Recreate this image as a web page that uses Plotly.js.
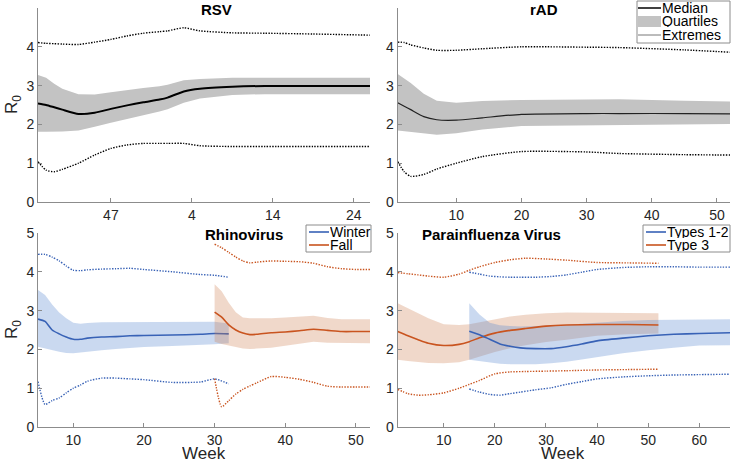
<!DOCTYPE html>
<html>
<head>
<meta charset="utf-8">
<script src="https://cdn.plot.ly/plotly-3.0.1.min.js"></script>
<style>
  body { margin: 0; background: #fff; }
  #myDiv { width: 733px; height: 461px; }
</style>
</head>
<body>
<div id="myDiv"></div>
<script>
// RSV: weeks keep counting past 53 so the season is continuous (57 = week 4)
var rsvWeek   = [38, 39, 40, 41, 43, 45, 47, 49, 51, 53, 54, 56, 58, 62, 66, 72, 79];
var rsvMed    = [2.54, 2.50, 2.44, 2.38, 2.27, 2.30, 2.40, 2.49, 2.57, 2.64, 2.69, 2.85, 2.92, 2.97, 2.99, 2.99, 2.99];
var rsvQ3     = [3.27, 3.20, 3.05, 2.92, 2.78, 2.77, 2.83, 2.89, 2.94, 2.98, 3.02, 3.14, 3.17, 3.20, 3.20, 3.20, 3.20];
var rsvQ1     = [1.81, 1.81, 1.81, 1.82, 1.84, 1.94, 2.04, 2.14, 2.24, 2.33, 2.39, 2.56, 2.67, 2.76, 2.78, 2.78, 2.78];
var rsvMax    = [4.11, 4.09, 4.08, 4.07, 4.06, 4.12, 4.19, 4.28, 4.35, 4.39, 4.41, 4.49, 4.41, 4.36, 4.35, 4.33, 4.30];
var rsvMin    = [1.04, 0.82, 0.78, 0.84, 1.00, 1.21, 1.38, 1.47, 1.51, 1.51, 1.51, 1.51, 1.45, 1.43, 1.43, 1.43, 1.43];
var rsvTicks  = [47, 57, 67, 77];
var rsvLabels = ['47', '4', '14', '24'];

// rAD
var radWeek = [1, 2, 3, 5, 7, 10, 14, 20, 30, 35, 45, 52];
var radMed  = [2.56, 2.47, 2.38, 2.20, 2.12, 2.11, 2.17, 2.26, 2.28, 2.28, 2.28, 2.27];
var radQ3   = [3.30, 3.18, 3.07, 2.79, 2.61, 2.56, 2.60, 2.63, 2.64, 2.65, 2.61, 2.59];
var radQ1   = [1.84, 1.83, 1.80, 1.77, 1.73, 1.77, 1.87, 1.96, 1.98, 1.99, 2.00, 2.01];
var radMax  = [4.12, 4.11, 4.05, 3.97, 3.91, 3.91, 3.95, 4.00, 3.99, 3.98, 3.92, 3.86];
var radMin  = [1.04, 0.78, 0.66, 0.71, 0.85, 1.00, 1.17, 1.30, 1.29, 1.25, 1.22, 1.21];

// Rhinovirus
var winWeek = [5, 6, 7, 8, 9, 10, 11, 12, 14, 16, 18, 20, 24, 28, 30, 32];
var winMed  = [2.78, 2.72, 2.50, 2.40, 2.32, 2.26, 2.26, 2.29, 2.32, 2.33, 2.35, 2.36, 2.37, 2.39, 2.41, 2.40];
var winQ3   = [3.53, 3.40, 3.16, 2.95, 2.80, 2.69, 2.66, 2.68, 2.70, 2.70, 2.71, 2.71, 2.71, 2.71, 2.71, 2.67];
var winQ1   = [2.07, 2.03, 1.98, 1.94, 1.91, 1.90, 1.92, 1.95, 1.98, 2.01, 2.04, 2.06, 2.09, 2.12, 2.13, 2.16];
var winMax  = [4.45, 4.45, 4.38, 4.28, 4.15, 4.04, 4.03, 4.05, 4.07, 4.08, 4.09, 4.06, 4.00, 3.93, 3.91, 3.86];
var winMin  = [1.17, 0.58, 0.68, 0.75, 0.88, 1.00, 1.08, 1.18, 1.26, 1.26, 1.24, 1.22, 1.15, 1.16, 1.24, 1.11];

var fallWeek = [30, 31, 32, 33, 34, 35, 36, 38, 40, 42, 44, 46, 48, 50, 52];
var fallMed  = [2.96, 2.83, 2.63, 2.50, 2.42, 2.38, 2.39, 2.43, 2.45, 2.48, 2.52, 2.49, 2.46, 2.46, 2.46];
var fallQ3   = [3.68, 3.50, 3.20, 2.96, 2.82, 2.80, 2.80, 2.80, 2.82, 2.85, 2.87, 2.81, 2.78, 2.78, 2.78];
var fallQ1   = [2.20, 2.14, 2.09, 2.06, 2.02, 2.01, 2.02, 2.04, 2.09, 2.15, 2.20, 2.17, 2.16, 2.16, 2.16];
var fallMax  = [4.71, 4.62, 4.50, 4.38, 4.28, 4.23, 4.25, 4.28, 4.27, 4.26, 4.22, 4.13, 4.08, 4.06, 4.06];
var fallMin  = [1.25, 0.52, 0.68, 0.85, 0.97, 1.06, 1.14, 1.30, 1.28, 1.23, 1.15, 1.05, 1.03, 1.03, 1.03];

// Parainfluenza
var t12Week = [15, 17, 19, 21, 23, 25, 28, 31, 34, 37, 40, 45, 50, 55, 60, 66];
var t12Med  = [2.47, 2.38, 2.26, 2.14, 2.08, 2.04, 2.02, 2.02, 2.07, 2.14, 2.22, 2.29, 2.35, 2.39, 2.41, 2.43];
var t12Q3   = [3.19, 2.90, 2.69, 2.62, 2.60, 2.59, 2.60, 2.61, 2.63, 2.66, 2.69, 2.73, 2.76, 2.77, 2.78, 2.78];
var t12Q1   = [1.73, 1.69, 1.66, 1.63, 1.62, 1.61, 1.62, 1.64, 1.68, 1.74, 1.81, 1.90, 1.98, 2.04, 2.10, 2.11];
var t12Max  = [3.99, 3.94, 3.89, 3.87, 3.86, 3.86, 3.86, 3.88, 3.92, 3.99, 4.06, 4.11, 4.13, 4.13, 4.12, 4.12];
var t12Min  = [0.98, 0.90, 0.84, 0.82, 0.86, 0.90, 0.96, 1.01, 1.10, 1.17, 1.24, 1.29, 1.32, 1.34, 1.35, 1.36];

var t3Week = [1, 3, 5, 7, 10, 13, 15, 17, 20, 23, 26, 30, 34, 40, 46, 52];
var t3Med  = [2.46, 2.35, 2.25, 2.16, 2.10, 2.13, 2.20, 2.30, 2.42, 2.49, 2.54, 2.60, 2.63, 2.64, 2.64, 2.63];
var t3Q3   = [3.19, 3.06, 2.95, 2.80, 2.65, 2.63, 2.65, 2.70, 2.79, 2.85, 2.89, 2.93, 2.95, 2.95, 2.94, 2.93];
var t3Q1   = [1.73, 1.70, 1.67, 1.65, 1.64, 1.67, 1.73, 1.80, 1.93, 2.03, 2.11, 2.19, 2.25, 2.35, 2.39, 2.41];
var t3Max  = [3.98, 3.95, 3.92, 3.89, 3.86, 3.94, 4.04, 4.13, 4.24, 4.31, 4.35, 4.33, 4.30, 4.24, 4.23, 4.22];
var t3Min  = [0.97, 0.86, 0.82, 0.83, 0.88, 1.00, 1.10, 1.20, 1.37, 1.42, 1.43, 1.44, 1.45, 1.47, 1.48, 1.49];

var blue = '#3862b6', blueFill = 'rgba(80,130,205,0.30)';
var red = '#c9541f', redFill = 'rgba(205,125,80,0.30)';
var grayFill = '#c3c3c3';
var font = 'Liberation Sans, Arial, sans-serif';
var dotted = '1.4px,1.4px';

function band(x, lo, hi, color, xa, ya) {
  return {
    x: x.concat(x.slice().reverse()),
    y: hi.concat(lo.slice().reverse()),
    type: 'scatter', mode: 'lines', fill: 'toself', fillcolor: color,
    line: {width: 0}, hoverinfo: 'skip', xaxis: xa, yaxis: ya
  };
}

function line(x, y, color, width, dash, xa, ya) {
  return {
    x: x, y: y, type: 'scatter', mode: 'lines',
    line: {color: color, width: width, dash: dash, shape: 'spline', smoothing: 0.6},
    xaxis: xa, yaxis: ya
  };
}

var data = [
  // RSV
  band(rsvWeek, rsvQ1, rsvQ3, grayFill, 'x', 'y'),
  line(rsvWeek, rsvMed, '#000', 2, 'solid', 'x', 'y'),
  line(rsvWeek, rsvMax, '#000', 1.4, dotted, 'x', 'y'),
  line(rsvWeek, rsvMin, '#000', 1.4, dotted, 'x', 'y'),
  // rAD
  band(radWeek, radQ1, radQ3, grayFill, 'x2', 'y2'),
  line(radWeek, radMed, '#222', 1.2, 'solid', 'x2', 'y2'),
  line(radWeek, radMax, '#000', 1.4, dotted, 'x2', 'y2'),
  line(radWeek, radMin, '#000', 1.4, dotted, 'x2', 'y2'),
  // Rhinovirus
  band(winWeek, winQ1, winQ3, blueFill, 'x3', 'y3'),
  line(winWeek, winMed, blue, 1.6, 'solid', 'x3', 'y3'),
  line(winWeek, winMax, blue, 1.4, dotted, 'x3', 'y3'),
  line(winWeek, winMin, blue, 1.4, dotted, 'x3', 'y3'),
  band(fallWeek, fallQ1, fallQ3, redFill, 'x3', 'y3'),
  line(fallWeek, fallMed, red, 1.6, 'solid', 'x3', 'y3'),
  line(fallWeek, fallMax, red, 1.4, dotted, 'x3', 'y3'),
  line(fallWeek, fallMin, red, 1.4, dotted, 'x3', 'y3'),
  // Parainfluenza
  band(t3Week, t3Q1, t3Q3, redFill, 'x4', 'y4'),
  band(t12Week, t12Q1, t12Q3, blueFill, 'x4', 'y4'),
  line(t3Week, t3Med, red, 1.6, 'solid', 'x4', 'y4'),
  line(t3Week, t3Max, red, 1.4, dotted, 'x4', 'y4'),
  line(t3Week, t3Min, red, 1.4, dotted, 'x4', 'y4'),
  line(t12Week, t12Med, blue, 1.6, 'solid', 'x4', 'y4'),
  line(t12Week, t12Max, blue, 1.4, dotted, 'x4', 'y4'),
  line(t12Week, t12Min, blue, 1.4, dotted, 'x4', 'y4')
];

function xAxis(dom, anchor, range, ticks) {
  return {
    domain: dom, anchor: anchor, range: range, tickvals: ticks,
    showline: true, linecolor: '#8c8c8c', linewidth: 1,
    ticks: 'inside', ticklen: 4, tickcolor: '#8c8c8c',
    showgrid: false, zeroline: false,
    tickfont: {family: font, size: 14, color: '#262626'}
  };
}

function yAxis(dom, anchor) {
  return {
    domain: dom, anchor: anchor, range: [0, 5], dtick: 1,
    showline: true, linecolor: '#8c8c8c', linewidth: 1,
    ticks: 'inside', ticklen: 4, tickcolor: '#8c8c8c',
    showgrid: false, zeroline: false,
    tickfont: {family: font, size: 14, color: '#262626'}
  };
}

// pixel -> paper helpers for the hand-drawn legends
function px(x) { return (x - 38) / 692; }
function py(y) { return (427 - y) / 419; }

var shapes = [];
var notes = [];

function legendBox(x0, x1, y0, y1) {
  shapes.push({type: 'rect', xref: 'paper', yref: 'paper', x0: px(x0), x1: px(x1), y0: py(y0), y1: py(y1),
    line: {color: '#8c8c8c', width: 1}, fillcolor: '#fff'});
}
function legendLine(x0, x1, y, color, width) {
  shapes.push({type: 'line', xref: 'paper', yref: 'paper', x0: px(x0), x1: px(x1), y0: py(y), y1: py(y),
    line: {color: color, width: width}});
}
function legendText(x, y, text) {
  notes.push({text: text, xref: 'paper', yref: 'paper', x: px(x), y: py(y), xanchor: 'left', yanchor: 'middle',
    showarrow: false, borderpad: 0, height: 12,
    font: {family: font, size: 14, color: '#000'}});
}

// rAD legend
legendBox(637, 730, 1, 43);
legendLine(638, 661, 8, '#000', 1.5);
shapes.push({type: 'rect', xref: 'paper', yref: 'paper', x0: px(638), x1: px(661), y0: py(16), y1: py(27),
  line: {width: 0}, fillcolor: grayFill});
legendLine(638, 661, 35, '#555', 0.8);
legendText(661, 8, 'Median');
legendText(661, 21, 'Quartiles');
legendText(661, 35, 'Extremes');

// Rhinovirus legend
legendBox(306, 371, 225, 252);
legendLine(309, 329, 232, blue, 1.6);
legendLine(309, 329, 245, red, 1.6);
legendText(329, 232, 'Winter');
legendText(329, 245, 'Fall');

// Parainfluenza legend
legendBox(643, 730, 225, 252);
legendLine(646, 666, 232, blue, 1.6);
legendLine(646, 666, 245, red, 1.6);
legendText(666, 232, 'Types 1-2');
legendText(666, 245, 'Type 3');

var titleFont = {family: font, size: 15, color: '#000'};
function panelTitle(text, x, y) {
  notes.push({text: '<b>' + text + '</b>', x: x, y: y, xref: 'paper', yref: 'paper',
    showarrow: false, font: titleFont, yanchor: 'middle'});
}
panelTitle('RSV', 0.2327, 0.9964);
panelTitle('rAD', 0.754, 0.9964);
panelTitle('Rhinovirus', 0.239, 0.46);
panelTitle('Parainfluenza Virus', 0.7587, 0.46);

function axisLabel(text, x, y, angle, h) {
  notes.push({text: text, x: x, y: y, xref: 'paper', yref: 'paper', showarrow: false,
    textangle: angle, xanchor: 'center', yanchor: 'middle', height: h,
    font: {family: font, size: 17, color: '#262626'}});
}
axisLabel('Week', px(204), py(453), 0, 14);
axisLabel('Week', px(563), py(453), 0, 14);
axisLabel('R<sub>0</sub>', px(13), py(104), -90);
axisLabel('R<sub>0</sub>', px(13), py(329), -90);

var layout = {
  width: 733, height: 461,
  margin: {l: 38, r: 3, t: 8, b: 34},
  paper_bgcolor: '#fff', plot_bgcolor: '#fff',
  showlegend: false,
  xaxis:  xAxis([0, 0.4798], 'y',  [38, 79], rsvTicks),
  xaxis2: xAxis([0.5198, 1], 'y2', [1, 52], [10, 20, 30, 40, 50]),
  xaxis3: xAxis([0, 0.4798], 'y3', [5, 52], [10, 20, 30, 40, 50]),
  xaxis4: xAxis([0.5198, 1], 'y4', [1, 66], [10, 20, 30, 40, 50, 60]),
  yaxis:  yAxis([0.537, 1], 'x'),
  yaxis2: yAxis([0.537, 1], 'x2'),
  yaxis3: yAxis([0, 0.463], 'x3'),
  yaxis4: yAxis([0, 0.463], 'x4'),
  shapes: shapes,
  annotations: notes
};
layout.xaxis.ticktext = rsvLabels;

Plotly.newPlot('myDiv', data, layout, {displayModeBar: false, staticPlot: true});
</script>
</body>
</html>
